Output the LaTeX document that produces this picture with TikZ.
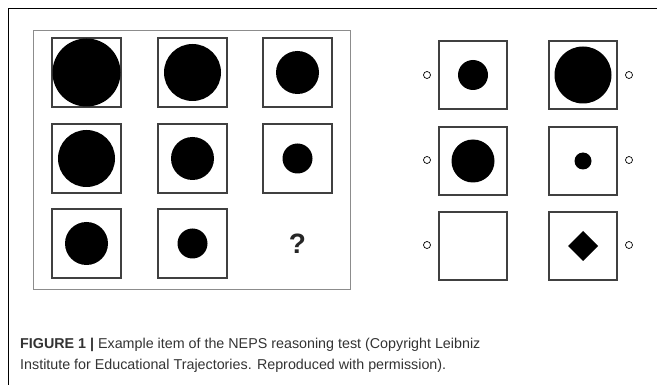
\documentclass[tikz,border=0pt]{standalone}
\usepackage{fontspec}
\setmainfont{Liberation Sans}
\usepackage{tikz}

\tikzset{
    cell/.style={draw=black!75, line width=1.2pt},
    dot/.style={fill=black},
    option/.style={draw=black, line width=0.7pt, fill=white}
}

\begin{document}
\begin{tikzpicture}[x=1pt, y=-1pt]
    \useasboundingbox (0,0) rectangle (657,385);

    % Outer figure frame
    \draw[black, line width=1pt] (657,9) -- (8,9) -- (8,385);

    % The 3x3 matrix
    \draw[black!45, line width=1pt] (33,31) rectangle (350,290);

    \draw[cell] (52,38) rectangle (121,107);
    \fill[dot] (86.5,72.5) circle (34);
    \draw[cell] (158,38) rectangle (227,107);
    \fill[dot] (192.5,72.5) circle (28.5);
    \draw[cell] (263,38) rectangle (332,107);
    \fill[dot] (297.5,72.5) circle (21.5);

    \draw[cell] (52,124) rectangle (121,193);
    \fill[dot] (86.5,158.5) circle (28.5);
    \draw[cell] (158,124) rectangle (227,193);
    \fill[dot] (192.5,158.5) circle (21.5);
    \draw[cell] (263,124) rectangle (332,193);
    \fill[dot] (297.5,158.5) circle (15);

    \draw[cell] (52,209) rectangle (121,278);
    \fill[dot] (86.5,243.5) circle (21.5);
    \draw[cell] (158,209) rectangle (227,278);
    \fill[dot] (192.5,243.5) circle (15);
    \node[font=\fontsize{28}{28}\selectfont\bfseries, text=black!85] (missing) at (297.5,244) {?};

    % Answer options
    \draw[cell] (439,41) rectangle (507,109);
    \fill[dot] (473,75) circle (15);
    \draw[cell] (549,41) rectangle (617,109);
    \fill[dot] (583,75) circle (28.5);

    \draw[cell] (439,127) rectangle (507,195);
    \fill[dot] (473,161) circle (21.5);
    \draw[cell] (549,127) rectangle (617,195);
    \fill[dot] (583,161) circle (8.5);

    \draw[cell] (439,212) rectangle (507,280);
    \draw[cell] (549,212) rectangle (617,280);
    \fill[dot] (583,231) -- (598,246) -- (583,261) -- (568,246) -- cycle;

    % tick boxes next to the options
    \draw[option] (427,75) circle (3.5);
    \draw[option] (427,160) circle (3.5);
    \draw[option] (427,245) circle (3.5);
    \draw[option] (629,75) circle (3.5);
    \draw[option] (629,160) circle (3.5);
    \draw[option] (629,245) circle (3.5);

    % Caption (base anchor sits on the last line)
    \node[anchor=base west, inner sep=0pt, align=left, text=black!80,
          font=\fontsize{14.3}{21}\selectfont] (caption) at (20,370)
        {\textbf{FIGURE 1 |} Example item of the NEPS reasoning test (Copyright Leibniz\\
         Institute for Educational Trajectories. Reproduced with permission).};
\end{tikzpicture}
\end{document}
